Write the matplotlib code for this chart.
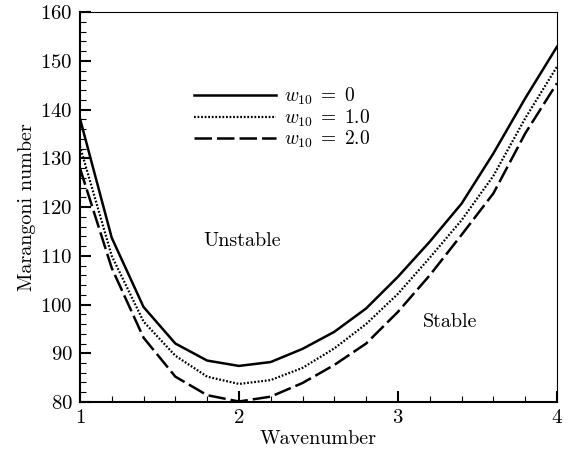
import numpy as np
import matplotlib
matplotlib.use("Agg")
import matplotlib.pyplot as plt
from matplotlib.ticker import MultipleLocator

plt.rcParams["font.family"] = "serif"
plt.rcParams["font.serif"] = ["cmr10"]
plt.rcParams["mathtext.fontset"] = "cm"
plt.rcParams["axes.formatter.use_mathtext"] = True

# Data
wavenumber = [1.0, 1.2, 1.4, 1.6, 1.8, 2.0, 2.2, 2.4, 2.6, 2.8, 3.0, 3.2, 3.4, 3.6, 3.8, 4.0]
ma_w0 = [138.2, 113.7, 99.5, 92.0, 88.5, 87.4, 88.2, 90.9, 94.4, 99.2, 105.7, 112.9, 120.7, 131.0, 142.3, 152.9]
ma_w1 = [132.5, 110.0, 96.5, 89.5, 85.2, 83.7, 84.5, 87.0, 91.0, 96.0, 102.2, 109.6, 117.3, 126.4, 138.2, 148.8]
ma_w2 = [128.0, 107.5, 93.2, 85.2, 81.4, 80.1, 81.1, 83.9, 87.6, 92.0, 98.5, 106.0, 114.3, 122.8, 135.1, 145.4]
labels = [r"$w_{10}\;=\;0$", r"$w_{10}\;=\;1.0$", r"$w_{10}\;=\;2.0$"]

fig = plt.figure(figsize=(5.79, 4.55), dpi=100)
ax = fig.add_axes([0.138, 0.1165, 0.824, 0.857])

ax.plot(wavenumber, ma_w0, color="black", lw=1.8, ls="-", label=labels[0])
ax.plot(wavenumber, ma_w1, color="black", lw=1.6, ls=(0, (0.8, 0.8)), label=labels[1])
ax.plot(wavenumber, ma_w2, color="black", lw=1.8, ls=(0, (7, 2)), label=labels[2])

ax.set_xlim(1, 4)
ax.set_ylim(80, 160)
ax.xaxis.set_major_locator(MultipleLocator(1))
ax.xaxis.set_minor_locator(MultipleLocator(0.2))
ax.yaxis.set_major_locator(MultipleLocator(10))
ax.yaxis.set_minor_locator(MultipleLocator(2))
ax.tick_params(which="both", direction="in", top=False, right=False, labelsize=15)
ax.tick_params(which="major", length=8, width=1.5, pad=5)
ax.tick_params(which="minor", length=4.5, width=0.8)

for side in ["left", "bottom"]:
    ax.spines[side].set_linewidth(1.5)
for side in ["top", "right"]:
    ax.spines[side].set_linewidth(0.8)

ax.set_xlabel("Wavenumber", fontsize=14.5, labelpad=2)
ax.set_ylabel("Marangoni number", fontsize=14.5, labelpad=3)

ax.text(2.02, 113, "Unstable", fontsize=14.5, ha="center", va="center")
ax.text(3.33, 96.4, "Stable", fontsize=14.5, ha="center", va="center")

ax.legend(loc="upper left", bbox_to_anchor=(0.24, 0.81), frameon=False,
          fontsize=14, handlelength=4.2, handletextpad=0.4, labelspacing=0.0,
          borderaxespad=0, borderpad=0)

fig.savefig("out.png", dpi=100)
